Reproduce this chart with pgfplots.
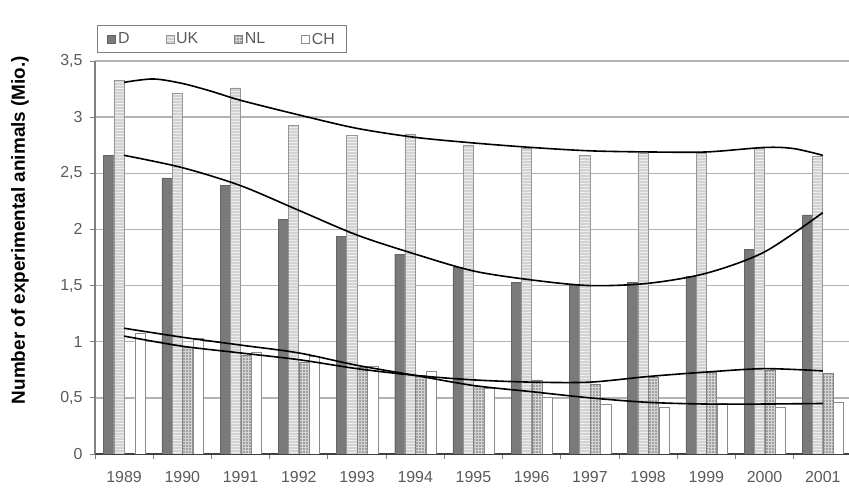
\documentclass[border=0pt]{standalone}
\usepackage{pgfplots}
\pgfplotsset{compat=1.18}
\usepackage{fontspec}
\setmainfont{Liberation Sans}
\usetikzlibrary{patterns}

\definecolor{dfill}{RGB}{122,122,122}
\definecolor{dedge}{RGB}{100,100,100}
\definecolor{ukfill}{RGB}{210,210,210}
\definecolor{ukedge}{RGB}{150,150,150}
\definecolor{nlfill}{RGB}{160,160,160}
\definecolor{nledge}{RGB}{130,130,130}
\definecolor{chedge}{RGB}{140,140,140}
\definecolor{gridc}{RGB}{178,178,178}
\definecolor{tickc}{RGB}{90,90,90}

\begin{document}
\begin{tikzpicture}
\begin{axis}[
  scale only axis, width=754bp, height=393bp,
  xmin=-0.5, xmax=12.45, ymin=0, ymax=3.5,
  axis lines=left, axis line style={-},
  x axis line style={black!75, line width=1.6bp},
  y axis line style={gray, line width=1.2bp},
  ytick={0,0.5,...,3.5},
  ymajorgrids, major grid style={gridc, line width=1.3bp},
  xtick={0,...,12},
  xticklabels={1989,1990,1991,1992,1993,1994,1995,1996,1997,1998,1999,2000,2001},
  major x tick style={draw=none},
  minor xtick={-0.5,0.5,...,11.5},
  minor x tick style={gray, line width=0.8bp},
  major y tick style={gray, line width=0.8bp},
  tick align=outside, major tick length=5bp, minor tick length=5bp,
  tick label style={font=\fontsize{16}{18}\selectfont, text=tickc},
  xticklabel style={yshift=-9bp},
  yticklabel style={xshift=-4bp},
  /pgf/number format/assume math mode=true,
  /pgf/number format/use comma,
  ylabel={Number of experimental animals (Mio.)},
  ylabel style={font=\fontsize{19}{22}\selectfont\bfseries, at={(axis description cs:-0.0995,0.57)}, anchor=center},
  ybar, bar width=0.175,
  legend columns=4,
  legend style={at={(axis description cs:0,1)}, anchor=south west, xshift=2bp, yshift=8bp,
    draw=gray, line width=1bp, font=\fontsize{16}{18}\selectfont, text=tickc,
    inner xsep=10bp, inner ysep=5bp,
    /tikz/every even column/.append style={column sep=34bp}},
  legend image code/.code={\draw[#1, line width=0.6bp] (0bp,-4bp) rectangle (8bp,4bp);},
]
\addplot[fill=dfill, draw=dedge, bar shift=-0.265] coordinates {
 (0,2.66) (1,2.46) (2,2.39) (3,2.09) (4,1.94) (5,1.78) (6,1.66) (7,1.53) (8,1.50) (9,1.53) (10,1.58) (11,1.82) (12,2.13)};
\addlegendentry{D}
\addplot[fill=ukfill, draw=ukedge, bar shift=-0.09, postaction={pattern=horizontal lines, pattern color=white!60!ukfill}] coordinates {
 (0,3.33) (1,3.21) (2,3.26) (3,2.93) (4,2.84) (5,2.85) (6,2.75) (7,2.72) (8,2.66) (9,2.68) (10,2.68) (11,2.72) (12,2.65)};
\addlegendentry{UK}
\addplot[fill=nlfill, draw=nledge, bar shift=0.09, postaction={pattern=grid, pattern color=white!55!nlfill}] coordinates {
 (1,0.95) (2,0.88) (3,0.82) (4,0.77) (5,0.70) (6,0.60) (7,0.66) (8,0.62) (9,0.68) (10,0.73) (11,0.75) (12,0.72)};
\addlegendentry{NL}
\addplot[fill=white, draw=chedge, bar shift=0.27] coordinates {
 (0,1.08) (1,1.03) (2,0.91) (3,0.87) (4,0.78) (5,0.74) (6,0.59) (7,0.51) (8,0.44) (9,0.42) (10,0.45) (11,0.42) (12,0.46)};
\addlegendentry{CH}
% trend lines
\addplot[black, line width=1.6bp, smooth, mark=none, forget plot] coordinates {
 (0,3.31) (0.5,3.34) (1,3.30) (1.5,3.23) (2,3.15) (3,3.02) (4,2.90) (5,2.82) (6,2.77) (7,2.73) (8,2.70) (9,2.69) (10,2.69) (11,2.73) (11.5,2.72) (12,2.66)};
\addplot[black, line width=1.6bp, smooth, mark=none, forget plot] coordinates {
 (0,2.66) (1,2.55) (2,2.39) (3,2.17) (4,1.95) (5,1.78) (6,1.63) (7,1.55) (8,1.50) (9,1.52) (10,1.61) (11,1.80) (12,2.15)};
\addplot[black, line width=1.6bp, smooth, mark=none, forget plot] coordinates {
 (0,1.05) (1,0.96) (2,0.90) (3,0.84) (4,0.76) (5,0.70) (6,0.66) (7,0.64) (8,0.64) (9,0.69) (10,0.73) (11,0.76) (12,0.74)};
\addplot[black, line width=1.6bp, smooth, mark=none, forget plot] coordinates {
 (0,1.12) (1,1.04) (2,0.97) (3,0.90) (4,0.79) (5,0.70) (6,0.61) (7,0.555) (8,0.50) (9,0.46) (10,0.445) (11,0.445) (12,0.45)};
\end{axis}
\pgfresetboundingbox
\path[use as bounding box] (-95bp,-35bp) rectangle (754bp,454bp);
\end{tikzpicture}
\end{document}
